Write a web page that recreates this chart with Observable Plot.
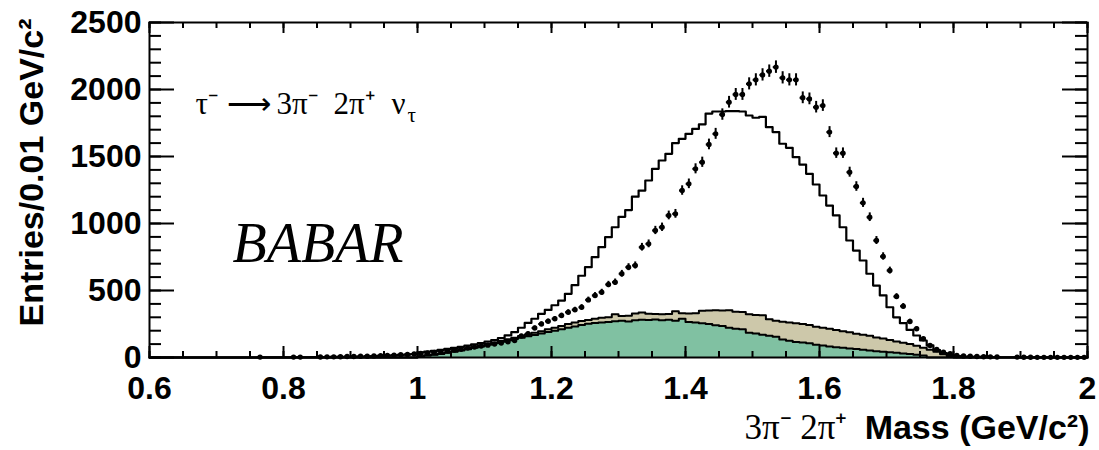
<!DOCTYPE html>
<html><head><meta charset="utf-8">
<script src="https://cdn.jsdelivr.net/npm/d3@7"></script>
<script src="https://cdn.jsdelivr.net/npm/@observablehq/plot@0.6"></script>
<style>body{margin:0;background:#fff}</style>
</head><body><div id="chart"></div>
<script>
// Histogram binning: 140 bins of 0.01 GeV/c^2 from 0.6 to 2.0
const binLow = 0.6, binWidth = 0.01;

// Total prediction (open histogram)
const mcTotal = [
  0,0,0,0,0,0,0,0,0,0,
  0,0,0,0,0,0,0,1,1,1,
  1,2,2,2,3,3,3,4,4,5,
  6,7,8,10,12,14,16,19,22,26,
  38,44,50,57,64,72,80,89,98,108,
  118,130,145,165,190,222,258,289,326,355,
  390,425,475,540,610,674,749,823,898,972,
  1050,1100,1200,1246,1321,1408,1470,1520,1600,1632,
  1669,1706,1740,1820,1836,1836,1838,1838,1836,1806,
  1789,1795,1719,1682,1595,1565,1495,1440,1371,1291,
  1209,1134,1060,972,873,798,724,625,537,463,
  375,300,256,206,164,127,90,55,32,18,
  10,7,5,4,4,3,3,2,2,2,
  1,1,1,1,1,1,0,0,0,0
];

// Lower background (green)
const bkgGreen = [
  0,0,0,0,0,0,0,0,0,0,
  0,0,0,0,0,0,0,0,0,0,
  0,0,0,0,0,0,0,0,0,0,
  0,0,0,0,0,0,0,0,0,0,
  8,14,20,27,35,43,52,62,72,82,
  95,106,117,128,138,148,158,168,180,190,
  200,210,222,232,242,252,258,262,265,270,
  274,268,278,282,280,284,278,282,275,290,
  265,262,255,250,240,235,222,215,210,185,
  180,170,162,155,135,125,116,112,106,95,
  90,83,77,72,68,63,57,52,47,43,
  39,35,30,26,20,14,0,0,0,0,
  0,0,0,0,0,0,0,0,0,0,
  0,0,0,0,0,0,0,0,0,0
];

// Total background (green + tan), top of the tan band
const bkgTotal = [
  0,0,0,0,0,0,0,0,0,0,
  0,0,0,0,0,0,0,0,0,0,
  0,0,0,0,0,0,0,0,0,0,
  0,0,0,0,0,0,0,0,0,0,
  10,16,22,30,38,47,56,66,77,88,
  100,112,124,136,148,160,172,184,196,210,
  222,236,250,262,272,280,290,296,300,322,
  310,312,328,336,326,324,322,325,345,330,
  328,330,348,350,352,350,352,342,340,322,
  318,316,285,275,266,262,255,250,242,230,
  222,215,205,195,188,178,170,162,150,142,
  130,120,110,100,88,72,58,42,25,10,
  0,0,0,0,0,0,0,0,0,0,
  0,0,0,0,0,0,0,0,0,0
];

// Data counts per bin (null = no point drawn)
const dataCounts = [
  null,null,null,null,null,null,null,null,null,null,
  null,null,null,null,null,null,3,null,null,null,
  null,3,3,null,null,4,5,5,6,7,
  8,9,10,12,14,16,18,20,23,26,
  30,34,38,44,50,56,62,70,78,85,
  92,100,108,118,127,160,177,220,250,270,
  289,313,338,356,375,430,463,487,545,562,
  625,674,687,823,848,948,972,1060,1072,1246,
  1296,1408,1457,1590,1669,1813,1905,1963,1963,2042,
  2072,2109,2137,2167,2087,2072,2072,1938,1930,1868,
  1880,1682,1525,1525,1383,1276,1154,1047,873,754,
  649,455,383,269,214,140,90,60,40,28,
  15,12,9,8,6,5,4,null,null,3,
  2,2,1,1,1,1,1,1,1,1
];

const xTickLabels = [0.6, 0.8, 1, 1.2, 1.4, 1.6, 1.8, 2];
const yTickLabels = [0, 500, 1000, 1500, 2000, 2500];
const yTitle = "Entries/0.01 GeV/c²";
const xTitleSerif = "3π⁻ 2π⁺";
const xTitleSans = "Mass (GeV/c²)";
const decayTau = "τ⁻";
const decayArrow = "⟶";
const decayPi1 = "3π⁻";
const decayPi2 = "2π⁺";
const decayNu = "ν";
const decaySub = "τ";
const expName = "BABAR";

const GREEN = "#80c1a2", TAN = "#cdc8aa";
const SANS = "Liberation Sans, Arial, Helvetica, sans-serif";
const SERIF = "Liberation Serif, Times New Roman, serif";

const edge = i => +(binLow + i * binWidth).toFixed(4);
function stepRows(arr) {
  const rows = arr.map((v, i) => ({x: edge(i), y: v}));
  rows.push({x: edge(arr.length), y: arr[arr.length - 1]});
  return rows;
}
const greenRows = stepRows(bkgGreen);
const totalRows = stepRows(bkgTotal);
const mcRows = stepRows(mcTotal);
const tanRows = totalRows.map((d, i) => ({x: d.x, y1: greenRows[i].y, y2: d.y}));
const points = dataCounts
  .map((v, i) => v == null ? null : {x: binLow + (i + 0.5) * binWidth, y: v, e: Math.sqrt(v)})
  .filter(Boolean);

const W = 1099, H = 450, mL = 149, mR = 12, mT = 22, mB = 93;
const FW = W - mL - mR, FH = H - mT - mB;
const xMinor = d3.range(0.6, 2.0001, 0.05).map(v => +v.toFixed(2));
const yMinor = d3.range(0, 2501, 100);

const serifText = (s, dx, dy, size) => Plot.text([s], {text: d => d, frameAnchor: "top-left", dx, dy,
  textAnchor: "start", lineAnchor: "bottom", fontSize: size, fontFamily: SERIF, fill: "black"});

const chart = Plot.plot({
  width: W, height: H,
  marginLeft: mL, marginRight: mR, marginTop: mT, marginBottom: mB,
  x: {domain: [0.6, 2.0], axis: null},
  y: {domain: [0, 2500], axis: null},
  style: {background: "white", overflow: "visible"},
  marks: [
    Plot.areaY(greenRows, {x: "x", y: "y", curve: "step-after", fill: GREEN}),
    Plot.areaY(tanRows, {x: "x", y1: "y1", y2: "y2", curve: "step-after", fill: TAN}),
    Plot.line(greenRows, {x: "x", y: "y", curve: "step-after", stroke: "black", strokeWidth: 2}),
    Plot.line(totalRows, {x: "x", y: "y", curve: "step-after", stroke: "black", strokeWidth: 2}),
    Plot.line(mcRows, {x: "x", y: "y", curve: "step-after", stroke: "black", strokeWidth: 2.2}),
    Plot.ruleX(points, {x: "x", y1: d => d.y - d.e, y2: d => d.y + d.e, stroke: "black", strokeWidth: 2}),
    Plot.ruleY(points, {y: "y", x1: d => d.x - binWidth * 0.4, x2: d => d.x + binWidth * 0.4, stroke: "black", strokeWidth: 2}),
    Plot.dot(points, {x: "x", y: "y", r: 2.7, fill: "black", stroke: null}),
    // ticks
    Plot.tickY(yTickLabels, {y: d => d, insetRight: FW - 25, strokeWidth: 2}),
    Plot.tickY(yMinor, {y: d => d, insetRight: FW - 12, strokeWidth: 2}),
    Plot.tickY(yTickLabels, {y: d => d, insetLeft: FW - 25, strokeWidth: 2}),
    Plot.tickY(yMinor, {y: d => d, insetLeft: FW - 12, strokeWidth: 2}),
    Plot.tickX(xTickLabels, {x: d => d, insetTop: FH - 11, strokeWidth: 2}),
    Plot.tickX(xMinor, {x: d => d, insetTop: FH - 6, strokeWidth: 2}),
    Plot.tickX(xTickLabels, {x: d => d, insetBottom: FH - 11, strokeWidth: 2}),
    Plot.tickX(xMinor, {x: d => d, insetBottom: FH - 6, strokeWidth: 2}),
    Plot.frame({stroke: "black", strokeWidth: 2}),
    // tick labels
    Plot.text(yTickLabels, {y: d => d, text: d => String(d), frameAnchor: "left", dx: -8, textAnchor: "end",
      lineAnchor: "middle", fontSize: 32, fontWeight: "bold", fontFamily: SANS, fill: "black"}),
    Plot.text(xTickLabels, {x: d => d, text: d => String(d), frameAnchor: "bottom", dy: 19, textAnchor: "middle",
      lineAnchor: "top", fontSize: 32, fontWeight: "bold", fontFamily: SANS, fill: "black"}),
    // axis titles
    Plot.text([yTitle], {text: d => d, frameAnchor: "top-left", dx: -117, dy: -4, rotate: -90,
      textAnchor: "end", lineAnchor: "middle", fontSize: 34, fontWeight: "bold", fontFamily: SANS, fill: "black"}),
    Plot.text([xTitleSans], {text: d => d, frameAnchor: "bottom-right", dx: 2, dy: 81,
      textAnchor: "end", lineAnchor: "bottom", fontSize: 34, fontWeight: "bold", fontFamily: SANS, fill: "black"}),
    Plot.text([xTitleSerif], {text: d => d, frameAnchor: "bottom-right", dx: -240, dy: 81,
      textAnchor: "end", lineAnchor: "bottom", fontSize: 35, fontFamily: SERIF, fill: "black"}),
    // annotations
    serifText(decayTau, 46, 91, 31),
    serifText(decayArrow, 77, 91, 31),
    serifText(decayPi1, 127, 91, 31),
    serifText(decayPi2, 184, 91, 31),
    serifText(decayNu, 242, 91, 31),
    serifText(decaySub, 258, 99, 21),
    Plot.text([expName], {text: d => d, frameAnchor: "top-left", dx: 83, dy: 239,
      textAnchor: "start", lineAnchor: "bottom", fontSize: 56, fontStyle: "italic", fontFamily: SERIF, fill: "black"})
  ]
});
document.getElementById("chart").appendChild(chart);
</script>
</body></html>
